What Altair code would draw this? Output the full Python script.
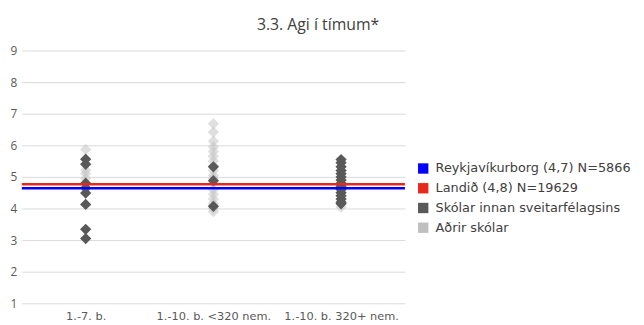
import altair as alt
import pandas as pd

categories = ["1.-7. b.", "1.-10. b. <320 nem.", "1.-10. b. 320+ nem."]
series_names = ["Reykjavíkurborg (4,7) N=5866", "Landið (4,8) N=19629",
                "Skólar innan sveitarfélagsins", "Aðrir skólar"]
series_colors = ["#0000ff", "#e8281a", "#595959", "#bfbfbf"]

reykjavik_value = 4.64
landid_value = 4.77

inside_cat1 = [5.56, 5.40, 4.80, 4.65, 4.49, 4.13, 3.34, 3.05]
inside_cat2 = [5.32, 4.88, 4.07]
inside_cat3 = [5.55, 5.45, 5.32, 5.2, 5.1, 5.0, 4.9, 4.8, 4.7, 4.6, 4.5, 4.4, 4.3, 4.2, 4.15]

other_cat1 = [5.87, 5.22, 5.11, 4.95]
other_cat2 = [6.68, 6.42, 6.13, 5.95, 5.8, 5.65, 5.5, 5.35, 5.2, 5.05, 4.95, 4.8, 4.6,
              4.45, 4.3, 4.15, 4.0, 3.9]
other_cat3 = [4.05]

rows = []
for cat, vals in zip(categories, [other_cat1, other_cat2, other_cat3]):
    for v in vals:
        rows.append({"cat": cat, "value": v, "series": series_names[3]})
for cat, vals in zip(categories, [inside_cat1, inside_cat2, inside_cat3]):
    for v in vals:
        rows.append({"cat": cat, "value": v, "series": series_names[2]})
points = pd.DataFrame(rows)

lines = pd.DataFrame({"value": [landid_value, reykjavik_value],
                      "series": [series_names[1], series_names[0]]})

color_scale = alt.Scale(domain=series_names, range=series_colors)
legend = alt.Legend(title=None, symbolType="square", symbolSize=110, labelFontSize=13,
                    labelColor="#404040", rowPadding=6, symbolStrokeWidth=0,
                    symbolOpacity=1, labelFont="DejaVu Sans", orient="none",
                    legendX=400, legendY=113, labelLimit=300, labelOffset=6)

yaxis = alt.Axis(title=None, values=list(range(1, 10)), grid=True, gridColor="#d9d9d9",
                 domain=False, ticks=False, labelColor="#595959", labelFontSize=12,
                 labelPadding=5, labelFont="Open Sans", labelOverlap=False)
yscale = alt.Scale(domain=[1, 9], nice=False)

base_x = alt.X("cat:N", sort=categories,
               scale=alt.Scale(domain=categories, paddingInner=0, paddingOuter=0),
               axis=alt.Axis(title=None, labelAngle=0, domain=False, ticks=False,
                             labelColor="#595959", labelFontSize=11.5, labelPadding=7,
                             labelFont="DejaVu Sans"))

pts = alt.Chart(points).mark_point(shape="diamond", filled=True, size=130).encode(
    x=base_x,
    y=alt.Y("value:Q", scale=yscale, axis=yaxis),
    color=alt.Color("series:N", scale=color_scale, legend=legend),
    opacity=alt.condition(alt.datum.series == series_names[3], alt.value(0.5), alt.value(1)),
    order=alt.Order("series:N", sort="ascending"),
)

rules = alt.Chart(lines).mark_rule(strokeWidth=2.5).encode(
    y=alt.Y("value:Q", scale=yscale, axis=yaxis),
    color=alt.Color("series:N", scale=color_scale, legend=legend),
)

chart = alt.layer(pts, rules).properties(
    width=388, height=256,
    padding={"left": 2, "top": 7, "right": 5, "bottom": 5},
    title=alt.TitleParams("3.3. Agi í tímum*", fontSize=16, fontWeight="normal", color="#404040",
                          font="Open Sans", anchor="middle", offset=12, dx=106),
).configure_view(stroke=None)

chart.save("out.html", embed_options={"renderer": "svg", "actions": False})
